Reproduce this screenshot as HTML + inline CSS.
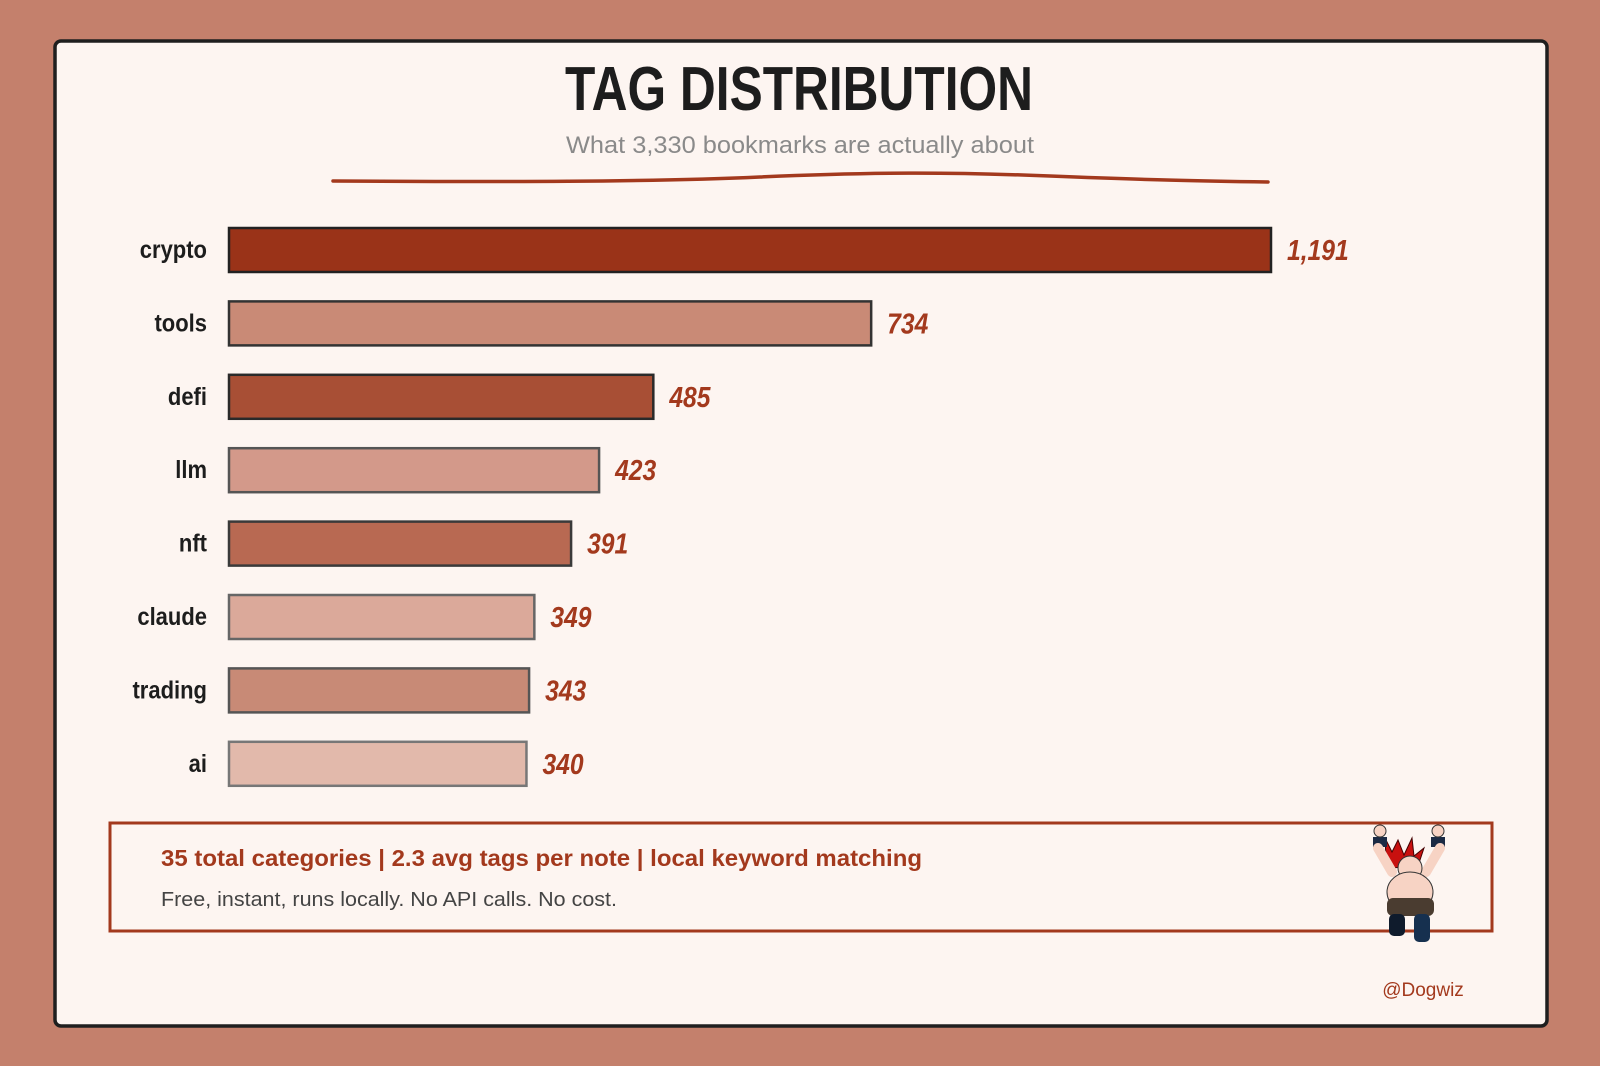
<!DOCTYPE html>
<html><head><meta charset="utf-8">
<style>
html,body{margin:0;padding:0;background:#c4806c;}
svg{display:block;}
</style></head>
<body>
<svg id="chart" width="1600" height="1066" viewBox="0 0 1600 1066" xmlns="http://www.w3.org/2000/svg">
  <rect x="0" y="0" width="1600" height="1066" fill="#c4806c"/>
  <rect x="55" y="41" width="1492" height="985" rx="6" fill="#fdf5f1" stroke="#1f1f1f" stroke-width="3.5"/>
  <text x="799" y="110" text-anchor="middle" font-family="Liberation Sans, sans-serif" font-weight="bold" font-size="62" fill="#1d1d1d" textLength="468" lengthAdjust="spacingAndGlyphs">TAG DISTRIBUTION</text>
  <text x="800" y="153" text-anchor="middle" font-family="Liberation Sans, sans-serif" font-size="24" fill="#8a8a8a" textLength="468" lengthAdjust="spacingAndGlyphs">What 3,330 bookmarks are actually about</text>
  <path d="M333 181 C 500 182, 650 182, 760 177 S 950 172, 1050 176 S 1200 181, 1268 182" fill="none" stroke="#a3391d" stroke-width="3.5" stroke-linecap="round"/>
  <g id="bars"></g>
  <rect x="110" y="823" width="1382" height="108" fill="none" stroke="#a3391d" stroke-width="3"/>
  <text x="161" y="866" font-family="Liberation Sans, sans-serif" font-weight="bold" font-size="23" fill="#a3391d" textLength="761" lengthAdjust="spacingAndGlyphs">35 total categories | 2.3 avg tags per note | local keyword matching</text>
  <text x="161" y="906" font-family="Liberation Sans, sans-serif" font-size="20" fill="#444" textLength="456" lengthAdjust="spacingAndGlyphs">Free, instant, runs locally. No API calls. No cost.</text>
  <g>
    <path d="M1385 838 L1392 852 L1398 840 L1404 855 L1412 838 L1414 856 L1424 848 L1418 866 L1392 868 L1386 858 Z" fill="#c8100f" stroke="#400" stroke-width="1"/>
    <rect x="1373" y="837" width="14" height="10" fill="#1b2a44"/>
    <rect x="1431" y="837" width="14" height="10" fill="#1b2a44"/>
    <circle cx="1380" cy="831" r="6" fill="#f7d3c4" stroke="#333"/>
    <circle cx="1438" cy="831" r="6" fill="#f7d3c4" stroke="#333"/>
    <path d="M1378 848 L1392 872 M1440 848 L1426 872" stroke="#f7d3c4" stroke-width="10" stroke-linecap="round"/>
    <circle cx="1410" cy="868" r="12" fill="#f7d3c4" stroke="#333"/>
    <ellipse cx="1410" cy="892" rx="23" ry="20" fill="#f7d3c4" stroke="#333"/>
    <rect x="1387" y="898" width="47" height="18" rx="6" fill="#4a3c30"/>
    <rect x="1389" y="914" width="16" height="22" rx="5" fill="#0f1b2c"/>
    <rect x="1414" y="914" width="16" height="28" rx="5" fill="#16304f"/>
  </g>
  <text x="1423" y="996" text-anchor="middle" font-family="Liberation Sans, sans-serif" font-size="19" fill="#a3391d">@Dogwiz</text>
</svg>
<script>
const categories = ["crypto","tools","defi","llm","nft","claude","trading","ai"];
const values = [1191, 734, 485, 423, 391, 349, 343, 340];
const valueLabels = ["1,191","734","485","423","391","349","343","340"];
const fills = ["#9a3318","#c98a76","#a84f35","#d3998a","#b86952","#dba99a","#c88a76","#e2b9ab"];
const strokes = ["#222","#333","#2a2a2a","#555","#3a3a3a","#666","#555","#777"];

const X0 = 229, XMAX = 1271, VMAX = 1191;
const xScale = v => X0 + (v / VMAX) * (XMAX - X0);
const Y0 = 250, STEP = 73.4, BH = 44;
const yScale = i => Y0 + i * STEP;
const NS = "http://www.w3.org/2000/svg";
const g = document.getElementById("bars");
categories.forEach((c, i) => {
  const cy = yScale(i);
  const r = document.createElementNS(NS, "rect");
  r.setAttribute("x", X0);
  r.setAttribute("y", cy - BH / 2);
  r.setAttribute("width", xScale(values[i]) - X0);
  r.setAttribute("height", BH);
  r.setAttribute("fill", fills[i]);
  r.setAttribute("stroke", strokes[i]);
  r.setAttribute("stroke-width", "2.5");
  
  
  g.appendChild(r);
  const l = document.createElementNS(NS, "text");
  l.setAttribute("x", 207);
  l.setAttribute("y", cy + 8);
  l.setAttribute("text-anchor", "end");
  l.setAttribute("font-family", "Liberation Sans, sans-serif");
  l.setAttribute("font-weight", "bold");
  l.setAttribute("font-size", "25");
  l.setAttribute("fill", "#1d1d1d");
  l.setAttribute("transform", "translate(207 0) scale(0.88 1) translate(-207 0)");
  l.textContent = c;
  
  
  g.appendChild(l);
  const v = document.createElementNS(NS, "text");
  const vx = xScale(values[i]) + 16;
  v.setAttribute("x", vx);
  v.setAttribute("y", cy + 10);
  v.setAttribute("font-family", "Liberation Sans, sans-serif");
  v.setAttribute("font-weight", "bold");
  v.setAttribute("font-style", "italic");
  v.setAttribute("font-size", "29");
  v.setAttribute("fill", "#a3391d");
  v.setAttribute("transform", "translate(" + vx + " 0) scale(0.85 1) translate(" + (-vx) + " 0)");
  v.textContent = valueLabels[i];
  
  
  g.appendChild(v);
});
</script>
</body></html>
